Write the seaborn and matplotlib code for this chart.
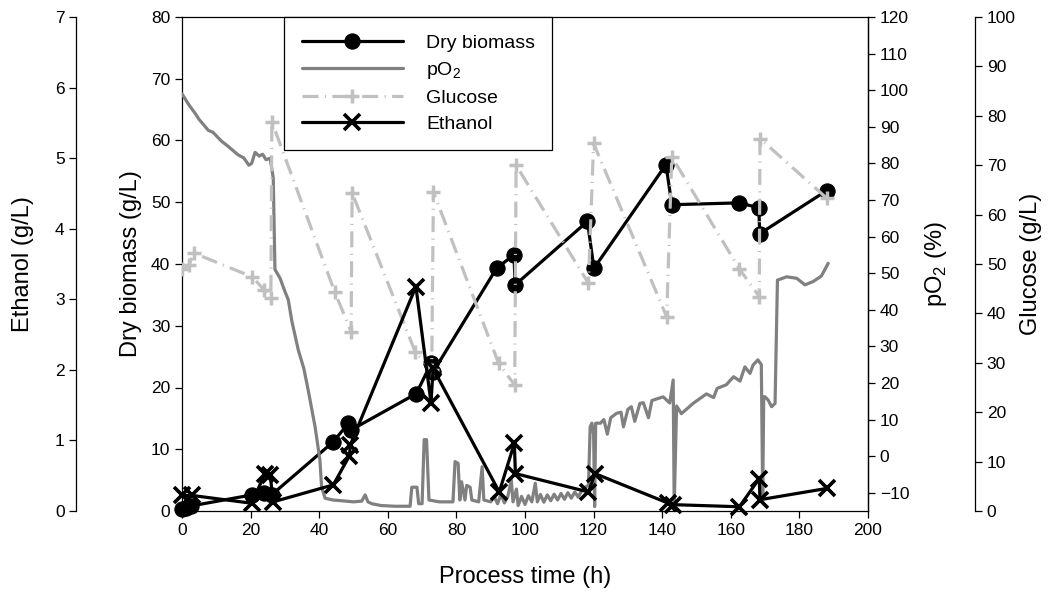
import numpy as np
import pandas as pd
import matplotlib
matplotlib.use("Agg")
import matplotlib.pyplot as plt
import seaborn as sns

# ---------------- data ----------------
bio_t = [0, 1.2, 2.5, 20.3, 23.8, 26.1, 44.1, 48.5, 49.2, 68.3, 72.7, 73.2, 91.7,
         96.8, 97.1, 118.2, 120.1, 141.1, 142.8, 162.5, 168.2, 168.4, 188]
bio_v = [0.3, 0.5, 0.8, 2.6, 2.9, 2.6, 11.2, 14.2, 13.1, 19.0, 24.0, 22.5, 39.3,
         41.5, 36.6, 46.9, 39.3, 56.1, 49.6, 49.9, 49.1, 44.9, 51.9]

eth_t = [0, 3, 20.3, 24.2, 25.7, 26.6, 44.1, 48.8, 49.1, 68.2, 72.6, 73.2, 92.5,
         96.9, 97.2, 118.5, 120.4, 141.8, 143.2, 162.5, 168.3, 168.5, 188]
eth_v = [0.22, 0.22, 0.11, 0.53, 0.51, 0.13, 0.37, 0.78, 0.94, 3.18, 1.53, 2.02, 0.27,
         0.96, 0.53, 0.27, 0.53, 0.11, 0.09, 0.06, 0.46, 0.16, 0.32]

glc_t = [0, 2, 3.5, 20.5, 24, 25.9, 26.2, 44.5, 49.3, 49.6, 68, 72.8, 73.3, 92.3,
         97, 97.4, 118.5, 120, 141.3, 142.8, 162.5, 168.3, 168.5, 188]
glc_v = [48.9, 49.8, 52.2, 47.4, 44.7, 43.1, 78.8, 44.4, 36.3, 64.4, 32.2, 28.5, 64.6, 29.9,
         25.5, 70.0, 46.1, 74.4, 39.3, 71.7, 49.0, 43.4, 75.4, 63.3]

po2_t = [0, 1, 2, 3.8, 5, 7.7, 9, 11.6, 13, 16.4, 18, 19.5, 20.3, 21.3, 22.5, 23.5,
         24.5, 25.7, 26.1, 26.6, 27.1, 28.6, 30, 31, 32, 33.9, 35.5, 36.8, 38.8, 40.2,
         40.7, 41.7, 44, 46.6, 50, 52.4, 53.4, 54.2, 55.3, 58, 62, 66.5, 67, 68.5, 69,
         70, 70.6, 71.3, 72, 75, 79, 79.6, 80.5, 81, 81.5, 82.5, 83, 84, 84.5, 86.5,
         87.5, 88, 90, 91, 92, 93, 94, 95, 96, 96.5, 97.5, 98, 99, 100, 101, 102, 103,
         103.6, 104.5, 105.5, 106.5, 107.5, 108.5, 109.5, 110.5, 111.5, 112.5, 113.5,
         114.5, 115.5, 116.5, 117.5, 118.5, 119, 119.5, 120, 120.3, 120.6, 122, 123,
         124, 125, 126.7, 128, 128.7, 130, 131, 132, 133.5, 134.5, 136, 137, 138, 140.3,
         142.2, 143.2, 143.5, 144.2, 145.6, 149, 152.9, 155, 156, 158.7, 160.8, 162.7,
         164.1, 165.6, 166.5, 167.9, 168.9, 169.3, 169.6, 170, 170.9, 171.9, 172.9,
         173.6, 176.3, 179.2, 181.6, 184, 186.4, 188.4]
po2_v = [99, 97.5, 96, 93.7, 92, 89, 88.5, 86, 85, 82.3, 81.5, 79.5, 80, 83, 82, 82.5,
         81, 81.4, 79, 76, 51, 48.6, 45, 42.7, 37, 29, 24, 18, 8, -1,
         -8.4, -11.5, -12, -12.2, -12.5, -12.3, -10.6, -12.5, -13, -13.5, -13.7, -13.7, -8.5, -8.5, -13,
         -13, 4.5, 4.5, -12, -12.5, -12.5, -1.5, -2, -12, -7, -12, -8, -8.5, -12, -12.5,
         -2.9, -12, -12.5, -11, -13, -10.5, -12.8, -11, -6.5, -12.5, -9, -13.5, -11, -13.2, -10.8, -12.5, -7.4,
         -12.5, -10.5, -12.6, -10.6, -12.2, -10.4, -12, -10.2, -11.8, -10, -11.5,
         -9.8, -11.2, -9.5, -8.5, -8, 8, 9, 6, -13.8, 9, 9, 10,
         6, 10.5, 11.7, 12, 8, 12.8, 13.5, 9.5, 14.4, 14.6, 10.5, 15.2, 15.5, 16.2,
         14.5, 20.8, -13.8, 13.7, 11.6, 14.4, 17, 16, 18.5, 19.5, 21.7, 20.5,
         24.4, 22.6, 24.9, 26.3, 25, -11, 16.2, 16.2, 15.3, 13.5, 14.4,
         48.1, 49, 48.6, 46.8, 47.7, 49.2, 52.7]

df_bio = pd.DataFrame({"t": bio_t, "v": bio_v})
df_eth = pd.DataFrame({"t": eth_t, "v": eth_v})
df_glc = pd.DataFrame({"t": glc_t, "v": glc_v})
df_po2 = pd.DataFrame({"t": po2_t, "v": po2_v})

# ---------------- style ----------------
sns.set_style("ticks")
plt.rcParams['font.family'] = ['Liberation Sans', 'DejaVu Sans']
plt.rcParams['axes.linewidth'] = 0.9
plt.rcParams['xtick.major.width'] = 0.9
plt.rcParams['ytick.major.width'] = 0.9
plt.rcParams['text.color'] = 'black'
plt.rcParams['axes.labelcolor'] = 'black'

TICK_FS = 12.5
LAB_FS = 17

BLACK = "black"
PO2_C = "#808080"
GLC_C = "#c0c0c0"

fig = plt.figure(figsize=(10.52, 5.96), dpi=100)
ax = fig.add_axes([182 / 1052, 1 - 511 / 596, 686 / 1052, 494 / 596])
ax_p = ax.twinx()
ax_g = ax.twinx()
ax_e = ax.twinx()

# biomass
sns.lineplot(data=df_bio, x="t", y="v", ax=ax, sort=False, estimator=None,
             color=BLACK, linewidth=2.3, marker="o", markersize=11,
             markeredgecolor=BLACK, markerfacecolor=BLACK, clip_on=False, legend=False)
# pO2
sns.lineplot(data=df_po2, x="t", y="v", ax=ax_p, sort=False, estimator=None,
             color=PO2_C, linewidth=2.3, legend=False)
# glucose
sns.lineplot(data=df_glc, x="t", y="v", ax=ax_g, sort=False, estimator=None,
             color=GLC_C, linewidth=2.3, marker="+", markersize=10.5,
             markeredgewidth=2.5, markeredgecolor=GLC_C, legend=False)
ax_g.lines[0].set_dashes([5, 2, 0.35, 2])
# ethanol
sns.lineplot(data=df_eth, x="t", y="v", ax=ax_e, sort=False, estimator=None,
             color=BLACK, linewidth=2.3, marker="x", markersize=11.5,
             markeredgewidth=2.6, markeredgecolor=BLACK, clip_on=False, legend=False)

# ---------------- axes ----------------
ax.set_xlim(0, 200)
ax.set_xticks(np.arange(0, 201, 20))
ax.set_ylim(0, 80)
ax.set_yticks(np.arange(0, 81, 10))
ax_p.set_ylim(-15, 120)
ax_p.set_yticks(np.arange(-10, 121, 10))
ax_g.set_ylim(0, 100)
ax_g.set_yticks(np.arange(0, 101, 10))
ax_e.set_ylim(0, 7)
ax_e.set_yticks(np.arange(0, 8, 1))

for a in (ax_p, ax_g, ax_e):
    for s in ("top", "bottom", "left", "right"):
        a.spines[s].set_visible(False)
ax_p.spines["right"].set_visible(True)
ax_g.spines["right"].set_visible(True)
ax_g.spines["right"].set_position(("axes", 1.156))
ax_e.spines["left"].set_visible(True)
ax_e.spines["left"].set_position(("axes", -0.154))
ax_e.yaxis.set_ticks_position("left")
ax_e.yaxis.set_label_position("left")

for a in (ax, ax_p, ax_g, ax_e):
    a.tick_params(direction="out", length=5, labelsize=TICK_FS, colors="black")
    for s in a.spines.values():
        s.set_color("black")

ax.set_xlabel("Process time (h)", fontsize=LAB_FS, labelpad=20)
ax.set_ylabel("Dry biomass (g/L)", fontsize=LAB_FS, labelpad=6)
ax_p.set_ylabel(r"pO$_\mathregular{2}$ (%)", fontsize=LAB_FS, labelpad=10)
ax_g.set_ylabel("Glucose (g/L)", fontsize=LAB_FS, labelpad=3)
ax_e.set_ylabel("Ethanol (g/L)", fontsize=LAB_FS, labelpad=15)

handles = [ax.lines[0], ax_p.lines[0], ax_g.lines[0], ax_e.lines[0]]
labels = ["Dry biomass", r"pO$_\mathregular{2}$", "Glucose", "Ethanol"]
leg = fig.legend(handles, labels, loc="upper left",
                 bbox_to_anchor=(284 / 1052, 1 - 17 / 596), borderaxespad=0,
                 frameon=True, fancybox=False, framealpha=1, edgecolor="black",
                 fontsize=14, handlelength=5.2, handletextpad=1.2,
                 borderpad=0.9, labelspacing=0.42)
leg.get_frame().set_linewidth(0.9)

fig.savefig("out.png", dpi=100)
